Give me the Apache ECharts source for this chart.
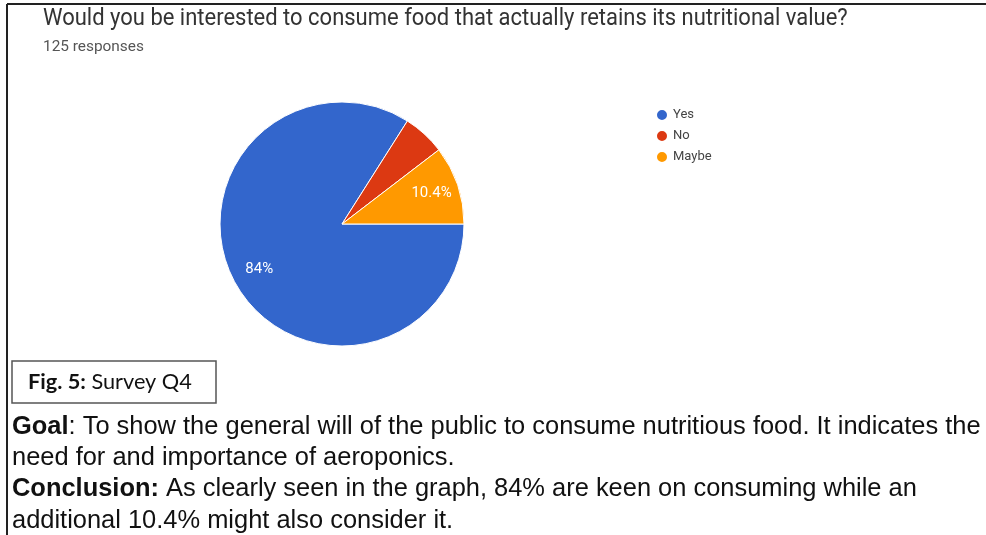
<!DOCTYPE html>
<html>
<head>
<meta charset="utf-8">
<script src="https://cdn.jsdelivr.net/npm/echarts@6/dist/echarts.min.js"></script>
<style>
html,body{margin:0;padding:0;background:#fff;}
#chart{width:986px;height:535px;}
</style>
</head>
<body>
<div id="chart"></div>
<script>
const categories = ['Yes', 'No', 'Maybe'];
const counts = [105, 7, 13];
const questionTitle = 'Would you be interested to consume food that actually retains its nutritional value?';
const responsesText = '125 responses';
const figLabel = ['Fig. 5:', ' Survey Q4'];
const bodyLines = [
  ['Goal', ': To show the general will of the public to consume nutritious food. It indicates the'],
  ['', 'need for and importance of aeroponics.'],
  ['Conclusion:', ' As clearly seen in the graph, 84% are keen on consuming while an'],
  ['', 'additional 10.4% might also consider it.']
];
const sliceColors = ['#3366cc', '#dc3912', '#ff9900'];

const total = counts.reduce((a, b) => a + b, 0);
const cv = document.createElement('canvas').getContext('2d');
function w(text, font) { cv.font = font; return cv.measureText(text).width; }
function fitSize(parts, target) {
  let s = 0;
  parts.forEach(p => { s += w(p[0], p[1] + ' 100px ' + p[2]); });
  return 100 * target / s;
}
const titleFam = 'Roboto';
const bodyFam = '"Liberation Sans", Arial';
const figFam = 'Lato';
const titleSize = fitSize([[questionTitle, 'normal', titleFam]], 805);
const respSize = fitSize([[responsesText, 'normal', titleFam]], 101);
const bodySize = fitSize([[bodyLines[2][0], 'bold', bodyFam], [bodyLines[2][1], 'normal', bodyFam]], 905);
const figSize = fitSize([[figLabel[0], 'bold', figFam], [figLabel[1], 'normal', figFam]], 164);

const lineY = [427, 458, 489, 521];
const graphics = [
  { type: 'line', shape: { x1: 7, y1: 4, x2: 986, y2: 4 }, style: { stroke: '#222', lineWidth: 2 } },
  { type: 'line', shape: { x1: 7, y1: 4, x2: 7, y2: 535 }, style: { stroke: '#222', lineWidth: 2 } },
  { type: 'text', x: 43, y: 19, scaleY: 1.08, style: { text: questionTitle, verticalAlign: 'middle', font: 'normal ' + titleSize.toFixed(2) + 'px ' + titleFam, fill: '#333' } },
  { type: 'text', x: 43, y: 47, style: { text: responsesText, verticalAlign: 'middle', font: 'normal ' + respSize.toFixed(2) + 'px ' + titleFam, fill: '#555' } },
  { type: 'rect', shape: { x: 12, y: 361, width: 204, height: 42 }, style: { fill: '#fff', stroke: '#555', lineWidth: 1.5 } },
  { type: 'text', x: 28, y: 382, style: {
      text: '{b|' + figLabel[0] + '}{n|' + figLabel[1] + '}', verticalAlign: 'middle',
      rich: { b: { fontFamily: figFam, fontWeight: 'bold', fontSize: figSize, fill: '#111' }, n: { fontFamily: figFam, fontSize: figSize, fill: '#111' } } } }
];
bodyLines.forEach((ln, i) => {
  graphics.push({ type: 'text', x: 12, y: lineY[i], style: {
    text: (ln[0] ? '{b|' + ln[0] + '}' : '') + '{n|' + ln[1] + '}', verticalAlign: 'middle',
    rich: { b: { fontFamily: bodyFam, fontWeight: 'bold', fontSize: bodySize, fill: '#111' }, n: { fontFamily: bodyFam, fontSize: bodySize, fill: '#111' } } } });
});

const pieData = categories.map((c, i) => ({ name: c, value: counts[i], itemStyle: { color: sliceColors[i] } }));
const labelData = categories.map((c, i) => {
  const pct = counts[i] / total * 100;
  return { name: c, value: counts[i], label: { show: pct >= 8 } };
});

const chart = echarts.init(document.getElementById('chart'), null, { renderer: 'canvas' });
chart.setOption({
  animation: false,
  backgroundColor: '#fff',
  legend: {
    orient: 'vertical', left: 650, top: 103, icon: 'circle', itemWidth: 12, itemHeight: 12, itemGap: 7,
    data: categories,
    textStyle: { fontFamily: 'Roboto', fontSize: 13, color: '#444' }
  },
  series: [
    {
      type: 'pie', center: [342, 224], radius: [0, 122], startAngle: 0, clockwise: true,
      label: { show: false }, labelLine: { show: false },
      itemStyle: { borderColor: '#fff', borderWidth: 1 },
      data: pieData
    },
    {
      type: 'pie', center: [342, 224], radius: [61, 122], startAngle: 0, clockwise: true, silent: true,
      legendHoverLink: false,
      itemStyle: { color: 'rgba(0,0,0,0)' },
      label: {
        position: 'inside', color: '#fff', fontFamily: 'Roboto', fontSize: 15,
        formatter: p => (Math.round(p.value / total * 1000) / 10) + '%'
      },
      labelLine: { show: false },
      data: labelData
    }
  ],
  graphic: graphics
});
</script>
</body>
</html>
